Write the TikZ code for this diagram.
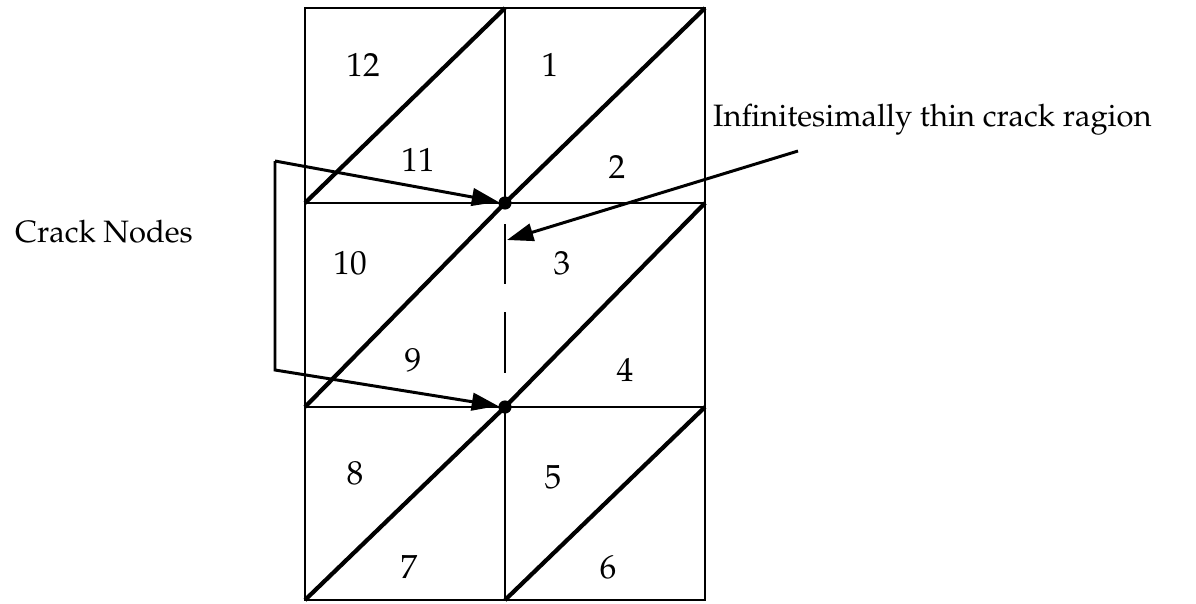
\documentclass[tikz,border=0pt]{standalone}
\usepackage[T1]{fontenc}
\usepackage{mathpazo}
\usetikzlibrary{arrows.meta,calc,positioning}

\begin{document}
\begin{tikzpicture}[x=0.02cm,y=-0.02cm,
  gridline/.style={line width=1.5pt},
  thinline/.style={line width=1.2pt},
  diagline/.style={line width=2.4pt},
  pointer/.style={line width=1.7pt,-{Triangle[length=15pt,width=10pt]}},
  elnum/.style={font=\fontsize{19}{21}\selectfont},
  labeltext/.style={font=\fontsize{17.6}{20}\selectfont,anchor=west},
  crackdot/.style={circle,fill,inner sep=0pt,minimum size=7.5pt}]
\useasboundingbox (0,0) rectangle (1196,603);
% mesh corners
\foreach \r/\y in {0/8,1/203,2/407,3/600}
  \foreach \c/\x in {0/305,1/505,2/705}
    \coordinate (p\c\r) at (\x,\y);
\draw[gridline] (p00) rectangle (p23);
\draw[gridline] (p01) -- (p21) (p02) -- (p22);
\draw[thinline] (p10) -- (p11) (p12) -- (p13);
% crack (broken line in the middle row)
\coordinate (ct) at (505,224);
\draw[thinline] (ct) -- (505,284) (505,312) -- (505,373);
% diagonals
\foreach \c/\cc in {0/1,1/2}
  \foreach \r/\rr in {0/1,1/2,2/3}
    \draw[diagline] (p\c\rr) -- (p\cc\r);
\node[crackdot] (n1) at (p11) {};
\node[crackdot] (n2) at (p12) {};
% element numbers
\foreach \n/\x/\y in {12/363/65,1/550/65,11/418/160,2/617/167,10/350/263,3/562/263,
                      9/413/360,4/625/370,8/355/473,5/553/477,7/409/567,6/608/567}
  \node[elnum] (e\n) at (\x,\y) {\n};
% labels and pointers
\node[labeltext] (cn) at (9,232) {Crack Nodes};
\coordinate (bt) at (275,161);
\coordinate (bb) at (275,370);
\draw[pointer] (bt) -- (n1);
\draw[pointer] (bt) -- (bb) -- (n2);
\node[labeltext] (cr) at (707,120) {Infinitesimally thin crack ragion};
\coordinate (cs) at (798,151);
\draw[pointer] (cs) -- ($(ct)+(2,16)$);
\end{tikzpicture}
\end{document}
